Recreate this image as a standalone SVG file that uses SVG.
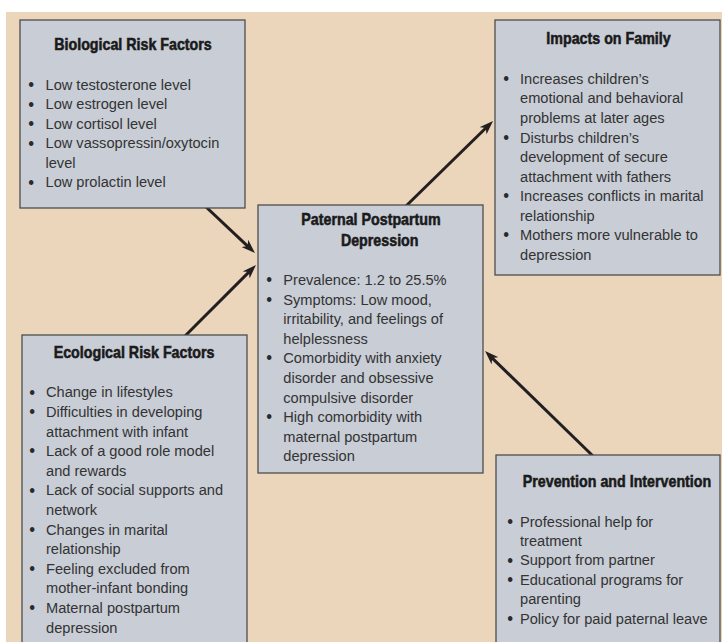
<svg xmlns="http://www.w3.org/2000/svg" width="722" height="642" viewBox="0 0 722 642">
  <defs>
    <style>
      .box { fill: #c8cdd6; stroke: #4d4d4d; stroke-width: 1.3; }
      .title { font-family: "Liberation Sans", Arial, sans-serif; font-weight: bold; font-size: 16.3px; fill: #1a1a1a; stroke: #1a1a1a; stroke-width: 0.55; text-anchor: middle; }
      .body { font-family: "Liberation Sans", Arial, sans-serif; font-size: 15.4px; fill: #333333; }
      .b { font-size: 17.5px; fill: #2a2a2a; baseline-shift: -1.2px; }
      .conn { stroke: #231f20; stroke-width: 3; fill: none; marker-end: url(#arrow); }
    </style>
    <marker id="arrow" markerUnits="userSpaceOnUse" viewBox="0 0 14 10" refX="5" refY="5" markerWidth="14" markerHeight="10" orient="auto">
      <path d="M0,0 L14,5 L0,10 L4,5 z" fill="#231f20"/>
    </marker>
  </defs>

  <rect x="0" y="0" width="722" height="642" fill="#ffffff"/>
  <rect x="6" y="12" width="716" height="630" fill="#ebd6bc"/>

  <g id="connectors">
    <line class="conn" x1="205" y1="206" x2="248.4" y2="246.8"/>
    <line class="conn" x1="184" y1="337" x2="249.6" y2="271.4"/>
    <line class="conn" x1="405" y1="207" x2="486.6" y2="127.3"/>
    <line class="conn" x1="594" y1="457" x2="491.5" y2="357.3"/>
  </g>

  <g id="biological">
    <rect class="box" x="20" y="20" width="225" height="188"/>
    <g transform="translate(133,0) scale(0.875,1)"><text class="title" x="0" y="50">Biological Risk Factors</text></g>
    <g transform="translate(45.5,0) scale(0.95,1)">
      <text class="body">
        <tspan class="b" x="-18.2" y="90">•</tspan><tspan x="0" y="90">Low testosterone level</tspan>
        <tspan class="b" x="-18.2" y="109.5">•</tspan><tspan x="0" y="109.5">Low estrogen level</tspan>
        <tspan class="b" x="-18.2" y="129">•</tspan><tspan x="0" y="129">Low cortisol level</tspan>
        <tspan class="b" x="-18.2" y="148.5">•</tspan><tspan x="0" y="148.5">Low vassopressin/oxytocin</tspan>
        <tspan x="0" y="168">level</tspan>
        <tspan class="b" x="-18.2" y="187.5">•</tspan><tspan x="0" y="187.5">Low prolactin level</tspan>
      </text>
    </g>
  </g>

  <g id="impacts">
    <rect class="box" x="495" y="20" width="225" height="255"/>
    <g transform="translate(608.5,0) scale(0.875,1)"><text class="title" x="0" y="44.5">Impacts on Family</text></g>
    <g transform="translate(520,0) scale(0.95,1)">
      <text class="body">
        <tspan class="b" x="-17.7" y="84">•</tspan><tspan x="0" y="84">Increases children’s</tspan>
        <tspan x="0" y="103.5">emotional and behavioral</tspan>
        <tspan x="0" y="123.1">problems at later ages</tspan>
        <tspan class="b" x="-17.7" y="142.6">•</tspan><tspan x="0" y="142.6">Disturbs children’s</tspan>
        <tspan x="0" y="162.2">development of secure</tspan>
        <tspan x="0" y="181.7">attachment with fathers</tspan>
        <tspan class="b" x="-17.7" y="201.3">•</tspan><tspan x="0" y="201.3">Increases conflicts in marital</tspan>
        <tspan x="0" y="220.8">relationship</tspan>
        <tspan class="b" x="-17.7" y="240.4">•</tspan><tspan x="0" y="240.4">Mothers more vulnerable to</tspan>
        <tspan x="0" y="259.9">depression</tspan>
      </text>
    </g>
  </g>

  <g id="paternal">
    <rect class="box" x="258" y="205" width="225" height="268"/>
    <g transform="translate(371,0) scale(0.875,1)"><text class="title" x="0" y="225">Paternal Postpartum</text></g>
    <g transform="translate(379.7,0) scale(0.875,1)"><text class="title" x="0" y="245.7">Depression</text></g>
    <g transform="translate(283.3,0) scale(0.95,1)">
      <text class="body">
        <tspan class="b" x="-18" y="285">•</tspan><tspan x="0" y="285">Prevalence: 1.2 to 25.5%</tspan>
        <tspan class="b" x="-18" y="304.6">•</tspan><tspan x="0" y="304.6">Symptoms: Low mood,</tspan>
        <tspan x="0" y="324.2">irritability, and feelings of</tspan>
        <tspan x="0" y="343.8">helplessness</tspan>
        <tspan class="b" x="-18" y="363.4">•</tspan><tspan x="0" y="363.4">Comorbidity with anxiety</tspan>
        <tspan x="0" y="383">disorder and obsessive</tspan>
        <tspan x="0" y="402.6">compulsive disorder</tspan>
        <tspan class="b" x="-18" y="422.2">•</tspan><tspan x="0" y="422.2">High comorbidity with</tspan>
        <tspan x="0" y="441.8">maternal postpartum</tspan>
        <tspan x="0" y="461.4">depression</tspan>
      </text>
    </g>
  </g>

  <g id="ecological">
    <rect class="box" x="22" y="335" width="225" height="320"/>
    <g transform="translate(134,0) scale(0.875,1)"><text class="title" x="0" y="358">Ecological Risk Factors</text></g>
    <g transform="translate(46,0) scale(0.95,1)">
      <text class="body">
        <tspan class="b" x="-17.7" y="397.5">•</tspan><tspan x="0" y="397.5">Change in lifestyles</tspan>
        <tspan class="b" x="-17.7" y="417.1">•</tspan><tspan x="0" y="417.1">Difficulties in developing</tspan>
        <tspan x="0" y="436.7">attachment with infant</tspan>
        <tspan class="b" x="-17.7" y="456.3">•</tspan><tspan x="0" y="456.3">Lack of a good role model</tspan>
        <tspan x="0" y="475.9">and rewards</tspan>
        <tspan class="b" x="-17.7" y="495.5">•</tspan><tspan x="0" y="495.5">Lack of social supports and</tspan>
        <tspan x="0" y="515.1">network</tspan>
        <tspan class="b" x="-17.7" y="534.7">•</tspan><tspan x="0" y="534.7">Changes in marital</tspan>
        <tspan x="0" y="554.3">relationship</tspan>
        <tspan class="b" x="-17.7" y="573.9">•</tspan><tspan x="0" y="573.9">Feeling excluded from</tspan>
        <tspan x="0" y="593.5">mother-infant bonding</tspan>
        <tspan class="b" x="-17.7" y="613.1">•</tspan><tspan x="0" y="613.1">Maternal postpartum</tspan>
        <tspan x="0" y="632.7">depression</tspan>
      </text>
    </g>
  </g>

  <g id="prevention">
    <rect class="box" x="496" y="455" width="224" height="200"/>
    <g transform="translate(617,0) scale(0.875,1)"><text class="title" x="0" y="486.7">Prevention and Intervention</text></g>
    <g transform="translate(520,0) scale(0.95,1)">
      <text class="body">
        <tspan class="b" x="-13.5" y="526.7">•</tspan><tspan x="0" y="526.7">Professional help for</tspan>
        <tspan x="0" y="546.1">treatment</tspan>
        <tspan class="b" x="-13.5" y="565.5">•</tspan><tspan x="0" y="565.5">Support from partner</tspan>
        <tspan class="b" x="-13.5" y="584.9">•</tspan><tspan x="0" y="584.9">Educational programs for</tspan>
        <tspan x="0" y="604.3">parenting</tspan>
        <tspan class="b" x="-13.5" y="623.7">•</tspan><tspan x="0" y="623.7">Policy for paid paternal leave</tspan>
      </text>
    </g>
  </g>
</svg>
